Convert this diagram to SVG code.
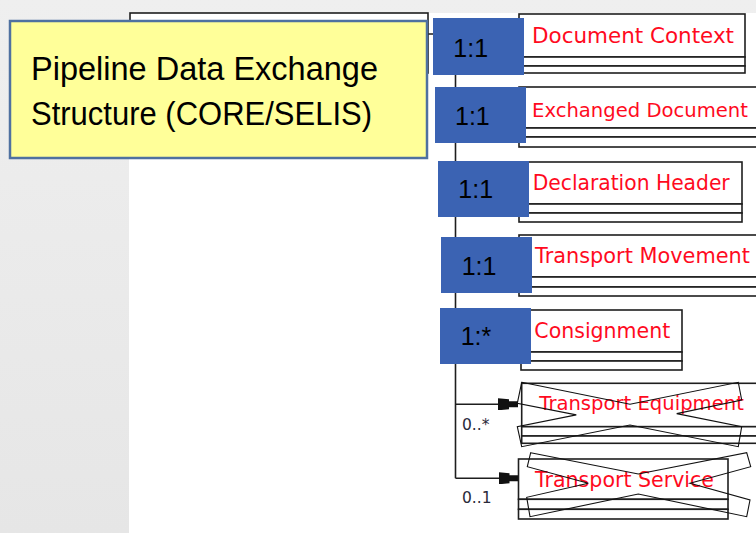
<svg xmlns="http://www.w3.org/2000/svg" width="756" height="533" viewBox="0 0 756 533">
  <defs>
    <linearGradient id="bg" x1="0" y1="0" x2="0" y2="1">
      <stop offset="0" stop-color="#efefef"/>
      <stop offset="1" stop-color="#e6e6e6"/>
    </linearGradient>
    <marker id="comp" markerUnits="userSpaceOnUse" viewBox="0 0 20 12" refX="20" refY="6" markerWidth="20" markerHeight="12" orient="auto">
      <path d="M0,0 L11,1 L11,3 L20,3 L20,9 L11,9 L11,11 L0,12 Z" fill="#111"/>
    </marker>
    <style>
      .box { fill: #ffffff; stroke: #1e1e1e; stroke-width: 1.6; }
      .cls { font-family: "DejaVu Sans", "Liberation Sans", sans-serif; font-size: 21.5px; fill: #ff0a1e; }
      .sm { font-size: 19.6px; }
      .x { fill: none; stroke: #111; stroke-width: 1.1; }
      .conn { fill: none; stroke: #1e1e1e; stroke-width: 1.6; }
      .card { font-family: "DejaVu Sans", "Liberation Sans", sans-serif; font-size: 15.5px; fill: #2a2a3a; }
      .mult { fill: #3b63b3; }
      .multT { font-family: "Liberation Sans", Arial, sans-serif; font-size: 25px; fill: #000; }
      .title { font-family: "Liberation Sans", Arial, sans-serif; font-size: 32.5px; fill: #000; }
    </style>
  </defs>

  <!-- background -->
  <rect x="0" y="0" width="756" height="533" fill="url(#bg)"/>
  <rect x="129" y="13" width="627" height="520" fill="#ffffff"/>

  <!-- root element box (mostly hidden) -->
  <g id="root">
    <rect class="box" x="130" y="13" width="298" height="60"/>
  </g>

  <!-- connectors -->
  <g id="connectors">
    <path class="conn" d="M428,34 H455.5 V478.3"/>
    <line class="conn" x1="455.5" y1="36" x2="519" y2="36" marker-end="url(#comp)"/>
    <line class="conn" x1="455.5" y1="107" x2="519" y2="107" marker-end="url(#comp)"/>
    <line class="conn" x1="455.5" y1="183" x2="519" y2="183" marker-end="url(#comp)"/>
    <line class="conn" x1="455.5" y1="256" x2="519" y2="256" marker-end="url(#comp)"/>
    <line class="conn" x1="455.5" y1="331" x2="521" y2="331" marker-end="url(#comp)"/>
    <line class="conn" x1="455.5" y1="404.3" x2="518" y2="404.3" marker-end="url(#comp)"/>
    <line class="conn" x1="455.5" y1="478.3" x2="518.5" y2="478.3" marker-end="url(#comp)"/>
    <text class="card" x="462" y="430">0..*</text>
    <text class="card" x="462" y="503">0..1</text>
  </g>

  <!-- element boxes -->
  <g id="document-context">
    <rect class="box" x="519" y="14" width="226" height="43"/>
    <rect class="box" x="519" y="57" width="226" height="9"/>
    <rect class="box" x="519" y="66" width="226" height="7"/>
    <text class="cls" x="532" y="43" textLength="202" lengthAdjust="spacingAndGlyphs">Document Context</text>
  </g>
  <g id="exchanged-document">
    <rect class="box" x="519" y="87" width="238.5" height="41"/>
    <rect class="box" x="519" y="128" width="238.5" height="9"/>
    <rect class="box" x="519" y="137" width="238.5" height="10"/>
    <text class="cls sm" x="532" y="117">Exchanged Document</text>
  </g>
  <g id="declaration-header">
    <rect class="box" x="519" y="162" width="223" height="42"/>
    <rect class="box" x="519" y="204" width="223" height="9"/>
    <rect class="box" x="519" y="213" width="223" height="9"/>
    <text class="cls" x="532.7" y="190" textLength="197" lengthAdjust="spacingAndGlyphs">Declaration Header</text>
  </g>
  <g id="transport-movement">
    <rect class="box" x="519" y="235" width="238.5" height="42"/>
    <rect class="box" x="519" y="277" width="238.5" height="10"/>
    <rect class="box" x="519" y="287" width="238.5" height="9"/>
    <text class="cls" x="535" y="263" textLength="215" lengthAdjust="spacingAndGlyphs">Transport Movement</text>
  </g>
  <g id="consignment">
    <rect class="box" x="521" y="310" width="161" height="42"/>
    <rect class="box" x="521" y="352" width="161" height="9"/>
    <rect class="box" x="521" y="361" width="161" height="9"/>
    <text class="cls" x="534.3" y="338" textLength="136" lengthAdjust="spacingAndGlyphs">Consignment</text>
  </g>
  <g id="transport-equipment">
    <rect class="box" x="521.7" y="383.3" width="235.8" height="43.4"/>
    <rect class="box" x="521.7" y="426.7" width="235.8" height="9.3"/>
    <rect class="box" x="521.7" y="436" width="235.8" height="7.3"/>
    <text class="cls sm" x="539.3" y="410">Transport Equipment</text>
    <polygon class="x" points="521.7,382.3 630,404.2 738.3,382.3 741.7,400 676.7,413.6 741.7,426.7 738.3,446.7 630,425 521.7,446.7 517.3,426.7 576.3,414.9 517.3,403.3"/>
  </g>
  <g id="transport-service">
    <rect class="box" x="518.5" y="459" width="209.5" height="40.3"/>
    <rect class="box" x="518.5" y="499.3" width="209.5" height="10"/>
    <rect class="box" x="518.5" y="509.3" width="209.5" height="9.7"/>
    <text class="cls" x="535" y="487" textLength="179" lengthAdjust="spacingAndGlyphs">Transport Service</text>
    <polygon class="x" points="530.7,452.7 638.3,474 746.7,452.7 750.7,466.7 690,483.3 750,500 746.7,516.7 638.3,494 530,516.7 526.7,497.3 588.3,483.3 527.3,466.7"/>
  </g>

  <!-- title callout -->
  <g id="title">
    <rect x="10" y="21" width="417" height="137" fill="#ffff99" stroke="#4f71a0" stroke-width="2.5"/>
    <text class="title" x="31" y="80" textLength="347" lengthAdjust="spacingAndGlyphs">Pipeline Data Exchange</text>
    <text class="title" x="31" y="125" textLength="341" lengthAdjust="spacingAndGlyphs">Structure (CORE/SELIS)</text>
  </g>

  <!-- multiplicity callouts -->
  <g id="mult-1">
    <rect class="mult" x="433" y="18" width="91" height="57"/>
    <text class="multT" x="453.3" y="57">1:1</text>
  </g>
  <g id="mult-2">
    <rect class="mult" x="435" y="87" width="91" height="56"/>
    <text class="multT" x="455" y="125">1:1</text>
  </g>
  <g id="mult-3">
    <rect class="mult" x="438" y="161" width="91" height="56"/>
    <text class="multT" x="458.3" y="198">1:1</text>
  </g>
  <g id="mult-4">
    <rect class="mult" x="441" y="237" width="91" height="56"/>
    <text class="multT" x="461.7" y="275">1:1</text>
  </g>
  <g id="mult-5">
    <rect class="mult" x="440" y="308" width="91" height="56"/>
    <text class="multT" x="460.7" y="345">1:*</text>
  </g>
</svg>
